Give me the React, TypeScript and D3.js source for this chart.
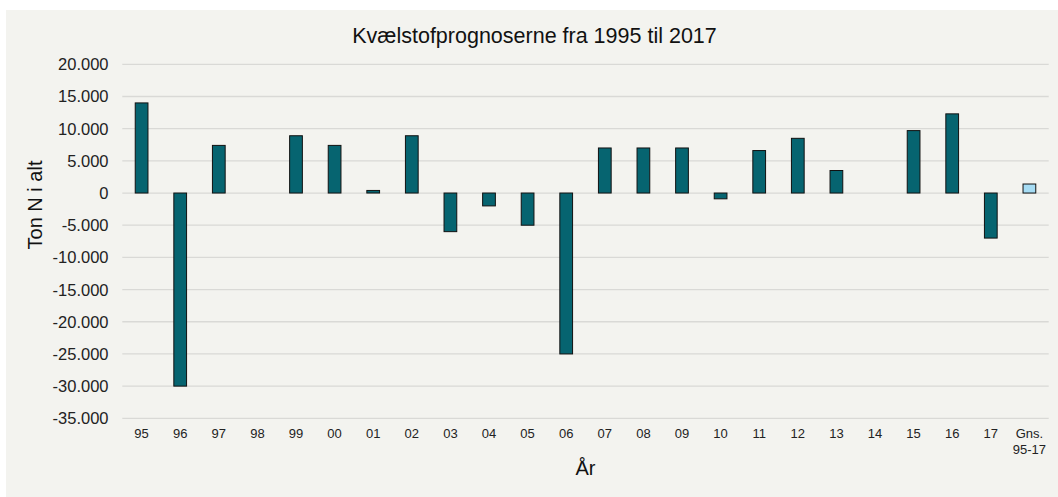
import React from "react";
import * as d3 from "d3";

const categories = ["95","96","97","98","99","00","01","02","03","04","05","06","07","08","09","10","11","12","13","14","15","16","17","Gns.\n95-17"];
const values = [14000,-30000,7400,0,8900,7400,400,8900,-6000,-2000,-5000,-25000,7000,7000,7000,-900,6600,8500,3500,0,9700,12300,-7000,1400];
const yTicks = [20000,15000,10000,5000,0,-5000,-10000,-15000,-20000,-25000,-30000,-35000];
const title = "Kvælstofprognoserne fra 1995 til 2017";
const yTitle = "Ton N i alt";
const xTitle = "År";

const W = 1058, H = 497;
const FONT = "Arial, 'Liberation Sans', Helvetica, sans-serif";

export default function App() {
  const x = d3.scaleBand<string>().domain(categories).range([122.3, 1048.7]).paddingInner(0.67).paddingOuter(0.335);
  const y = d3.scaleLinear().domain([-35000, 20000]).range([418.3, 64.3]);
  const fmt = (v: number) => d3.format(",")(v).replace(/,/g, ".").replace(/\u2212/g, "-");
  return (
    <svg width={W} height={H} style={{ position: "absolute", left: 0, top: 0, display: "block" }} fontFamily={FONT}>
      <rect x={0} y={0} width={W} height={H} fill="#ffffff" />
      <rect x={6} y={10} width={W - 6} height={H - 10} fill="#F3F3EF" />
      <text x={534.5} y={43} textAnchor="middle" fontSize={21.5} fill="#111">{title}</text>
      {yTicks.map((t) => (
        <g key={t}>
          <line x1={122.3} x2={1048.7} y1={y(t)} y2={y(t)} stroke="#D9D9D6" strokeWidth={1.3} />
          <text x={108.5} y={y(t)} dy="0.36em" textAnchor="end" fontSize={16.5} fill="#222">{fmt(t)}</text>
        </g>
      ))}
      {categories.map((c, i) => {
        const v = values[i];
        if (v === 0) return null;
        const y0 = y(0), y1 = y(v);
        const last = i === categories.length - 1;
        return (
          <rect key={c} x={x(c)!} y={Math.min(y0, y1)} width={x.bandwidth()} height={Math.abs(y1 - y0)}
            fill={last ? "#A6DCF4" : "#066470"} stroke="#111" strokeWidth={1} />
        );
      })}
      {categories.map((c) => {
        const lines = c.split("\n");
        const cx = x(c)! + x.bandwidth() / 2;
        return (
          <text key={c} x={cx} y={438} textAnchor="middle" fontSize={13} fill="#222">
            {lines.map((l, j) => (
              <tspan key={j} x={cx} dy={j === 0 ? 0 : 16}>{l}</tspan>
            ))}
          </text>
        );
      })}
      <text x={585.5} y={475} textAnchor="middle" fontSize={20} fill="#111">{xTitle}</text>
      <text transform={`translate(42,205) rotate(-90)`} textAnchor="middle" fontSize={20} fill="#111">{yTitle}</text>
    </svg>
  );
}
